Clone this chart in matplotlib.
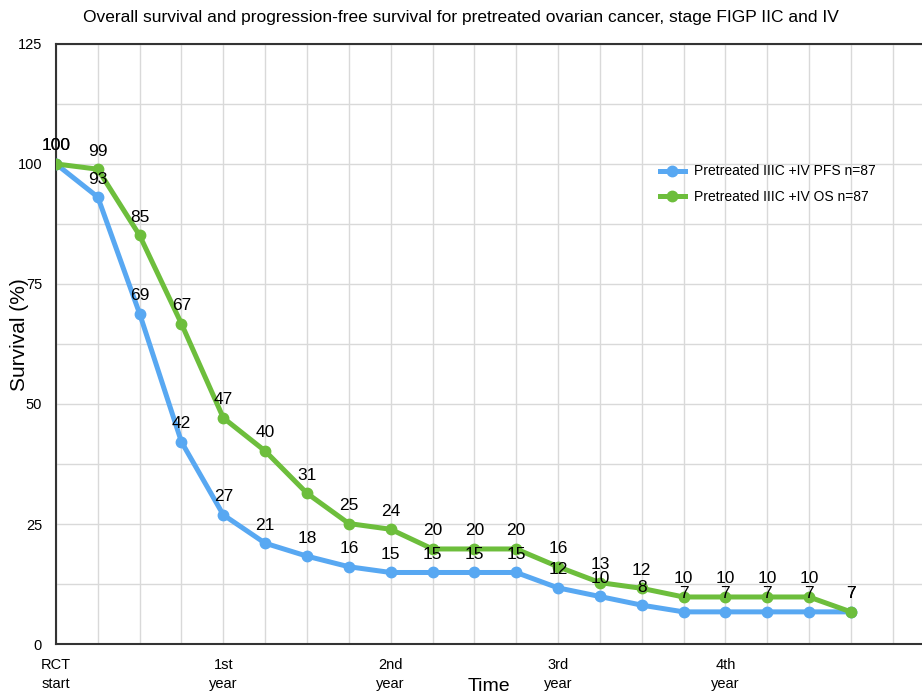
import matplotlib.pyplot as plt
from matplotlib.ticker import MultipleLocator

plt.rcParams['font.family'] = ['Liberation Sans', 'DejaVu Sans']

# Survival (%) at each time point
pfs = [100, 93.1, 68.8, 42.1, 26.9, 21.0, 18.3, 16.1, 14.9, 14.9, 14.9, 14.9,
       11.7, 9.9, 8.1, 6.7, 6.7, 6.7, 6.7, 6.7]
os_ = [100, 98.9, 85.1, 66.7, 47.1, 40.2, 31.4, 25.1, 23.9, 19.8, 19.8, 19.8,
       16.1, 12.8, 11.6, 9.8, 9.8, 9.8, 9.8, 6.7]
tick_labels = {0: 'RCT\nstart', 4: '1st\nyear', 8: '2nd\nyear', 12: '3rd\nyear', 16: '4th\nyear'}
pfs_name = 'Pretreated IIIC +IV PFS n=87'
os_name = 'Pretreated IIIC +IV OS n=87'

blue = '#58A8F2'
green = '#6DBE3C'

fig = plt.figure(figsize=(9.22, 6.97), dpi=100)
ax = fig.add_axes([0.0607, 0.076, 0.9393, 0.861])

x = list(range(len(pfs)))
ax.plot(x, pfs, color=blue, lw=3.6, marker='o', ms=7.5, label=pfs_name, zorder=3,
        solid_joinstyle='round')
ax.plot(x, os_, color=green, lw=3.6, marker='o', ms=7.5, label=os_name, zorder=4,
        solid_joinstyle='round')

# value labels above each point
for xi, v in zip(x, pfs):
    ax.annotate(f'{v:.0f}', (xi, v), xytext=(0, 13), textcoords='offset points',
                ha='center', va='center', fontsize=12.5, zorder=5)
for xi, v in zip(x, os_):
    ax.annotate(f'{v:.0f}', (xi, v), xytext=(0, 13), textcoords='offset points',
                ha='center', va='center', fontsize=12.5, zorder=5)

ax.set_xlim(0, 20.7)
ax.set_ylim(0, 125)
ax.set_xticks(x + [20])
ax.set_xticklabels([tick_labels.get(i, '') for i in x + [20]], fontsize=10.5,
                   linespacing=1.5)
ax.yaxis.set_major_locator(MultipleLocator(25))
ax.yaxis.set_minor_locator(MultipleLocator(12.5))
ax.tick_params(axis='both', length=0, which='both', labelsize=10.5)
ax.tick_params(axis='x', pad=10)
ax.tick_params(axis='y', pad=10)
ax.grid(True, which='both', color='#d9d9d9', lw=1)
ax.set_axisbelow(True)

for s in ['left', 'bottom', 'top']:
    ax.spines[s].set_color('#333333')
    ax.spines[s].set_linewidth(1.5)
ax.spines['right'].set_visible(False)

ax.set_xlabel('Time', fontsize=14)
ax.xaxis.set_label_coords(0.5, -0.057)
ax.xaxis.label.set_va('top')
ax.set_ylabel('Survival (%)', fontsize=15)
ax.yaxis.set_label_coords(-0.031, 0.515)
fig.suptitle('Overall survival and progression-free survival for pretreated ovarian cancer, stage FIGP IIC and IV',
             fontsize=12.5, y=0.985)

ax.legend(loc='upper left', bbox_to_anchor=(0.683, 0.82), frameon=False,
          fontsize=10, handlelength=1.8, handletextpad=0.65, labelspacing=0.85)

fig.savefig('out.png', dpi=100)
